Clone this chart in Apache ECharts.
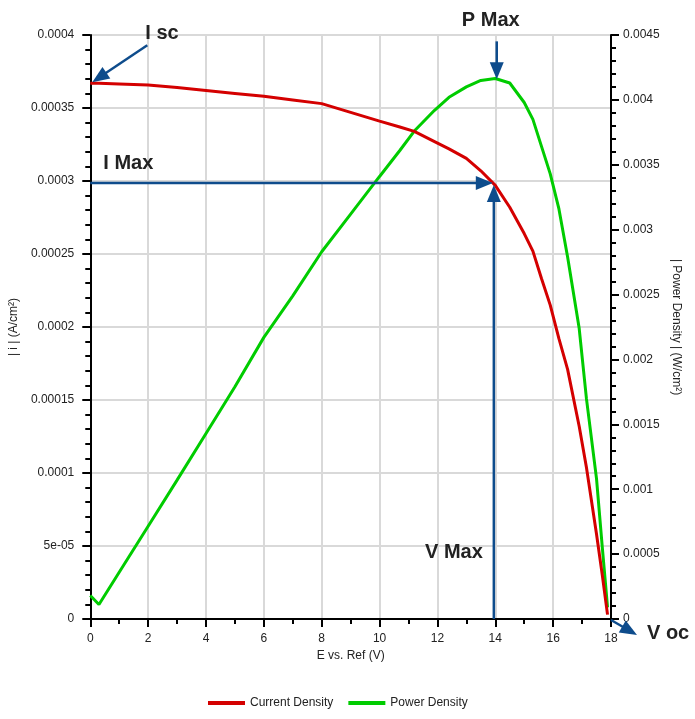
<!DOCTYPE html>
<html>
<head>
<meta charset="utf-8">
<script src="https://cdn.jsdelivr.net/npm/echarts@6/dist/echarts.min.js"></script>
<style>
  html, body { margin: 0; padding: 0; background: #fff; }
  #main { width: 695px; height: 719px; }
</style>
</head>
<body>
<div id="main"></div>
<script>
// values
var voltage = [0, 0.3, 1, 2, 3, 4, 5, 6, 7, 8, 9, 10, 10.7, 11.2, 11.9, 12.4, 13, 13.5, 14, 14.5,
  15, 15.3, 15.6, 15.9, 16.2, 16.5, 16.9, 17.15, 17.5, 17.7, 17.82, 17.88];
var currentDensity = [0.000367, 0.000367, 0.0003665, 0.0003657, 0.000364, 0.000362, 0.00036, 0.000358,
  0.0003555, 0.000353, 0.000347, 0.000341, 0.000337, 0.000334, 0.000327, 0.000322, 0.0003155, 0.000307,
  0.000297, 0.000282, 0.000264, 0.000252, 0.000233, 0.000215, 0.000192, 0.000171, 0.000132, 0.000104,
  0.000058, 0.00003, 0.000012, 0.000003];
var powerDensity = [0.000181, 0.000112, 0.00036, 0.000715, 0.00107, 0.00143, 0.00179, 0.00217, 0.00249,
  0.00283, 0.00312, 0.00341, 0.00361, 0.00376, 0.00392, 0.00402, 0.0041, 0.00415, 0.004165, 0.00413,
  0.00398, 0.00385, 0.00364, 0.00343, 0.00316, 0.00279, 0.00224, 0.0017, 0.00108, 0.00055, 0.000245, 0.00009];

var leftTickLabels = ['0', '5e-05', '0.0001', '0.00015', '0.0002', '0.00025', '0.0003', '0.00035', '0.0004'];
var rightTickLabels = ['0', '0.0005', '0.001', '0.0015', '0.002', '0.0025', '0.003', '0.0035', '0.004', '0.0045'];

// annotation points
var vMax = 13.95, iMax = 0.0002986, pMax = 0.004166, iSc = 0.000367, vOc = 18;

var font = 'Liberation Sans, Arial, sans-serif';
var blue = '#0e4c8c';

var myChart = echarts.init(document.getElementById('main'));

function pairs(xs, ys) {
  return xs.map(function (x, i) { return [x, ys[i]]; });
}

var axisCommon = {
  axisLine: { show: true, onZero: false, lineStyle: { color: '#000', width: 2 } },
  axisTick: { show: true, length: 8, lineStyle: { color: '#000', width: 2 } },
  nameTextStyle: { color: '#222', fontSize: 12, fontFamily: font }
};

option = {
  animation: false,
  grid: { left: 88, right: 84, top: 35, bottom: 100, containLabel: false },
  legend: {
    bottom: 5,
    left: 203,
    icon: 'rect',
    itemWidth: 37,
    itemHeight: 4,
    itemGap: 15,
    textStyle: { color: '#222', fontSize: 12, fontFamily: font },
    data: ['Current Density', 'Power Density']
  },
  xAxis: Object.assign({}, axisCommon, {
    type: 'value',
    min: 0, max: 18, interval: 2,
    name: 'E vs. Ref (V)',
    nameLocation: 'middle',
    nameGap: 30,
    minorTick: { show: true, splitNumber: 2, length: 5, lineStyle: { color: '#000', width: 2 } },
    axisLabel: { color: '#222', fontSize: 12, fontFamily: font, margin: 14 },
    splitLine: { show: true, lineStyle: { color: '#d9d9d9', width: 2 } }
  }),
  yAxis: [
    Object.assign({}, axisCommon, {
      type: 'value',
      position: 'left',
      min: 0, max: 0.0004, interval: 0.00005,
      name: '| i | (A/cm²)',
      nameLocation: 'middle',
      nameGap: 69,
      minorTick: { show: true, splitNumber: 5, length: 5, lineStyle: { color: '#000', width: 2 } },
      axisLabel: {
        color: '#222', fontSize: 12, fontFamily: font, margin: 16,
        formatter: function (v) { return leftTickLabels[Math.round(v / 0.00005)]; }
      },
      splitLine: { show: true, lineStyle: { color: '#d9d9d9', width: 2 } }
    }),
    Object.assign({}, axisCommon, {
      type: 'value',
      position: 'right',
      min: 0, max: 0.0045, interval: 0.0005,
      name: '| Power Density | (W/cm²)',
      nameLocation: 'middle',
      nameRotate: -90,
      nameGap: 58,
      minorTick: { show: true, splitNumber: 5, length: 5, lineStyle: { color: '#000', width: 2 } },
      axisLabel: {
        color: '#222', fontSize: 12, fontFamily: font, margin: 12,
        formatter: function (v) { return rightTickLabels[Math.round(v / 0.0005)]; }
      },
      splitLine: { show: false }
    })
  ],
  series: [
    {
      name: 'Current Density',
      type: 'line',
      yAxisIndex: 0,
      data: pairs(voltage, currentDensity),
      showSymbol: false,
      lineStyle: { color: '#d40000', width: 3 },
      itemStyle: { color: '#d40000' },
      z: 3
    },
    {
      name: 'Power Density',
      type: 'line',
      yAxisIndex: 1,
      data: pairs(voltage, powerDensity),
      showSymbol: false,
      lineStyle: { color: '#00cc00', width: 3 },
      itemStyle: { color: '#00cc00' },
      z: 2
    }
  ]
};

myChart.setOption(option);

// arrows and labels, placed from data coordinates
function toPx(x, y) { return myChart.convertToPixel({ xAxisIndex: 0, yAxisIndex: 0 }, [x, y]); }
function toPxR(x, y) { return myChart.convertToPixel({ xAxisIndex: 0, yAxisIndex: 1 }, [x, y]); }

function arrow(from, to) {
  var dx = to[0] - from[0], dy = to[1] - from[1];
  var len = Math.sqrt(dx * dx + dy * dy);
  var ux = dx / len, uy = dy / len;
  var head = 17, half = 7;
  var bx = to[0] - ux * head, by = to[1] - uy * head;
  return [
    { type: 'line', z: 10, shape: { x1: from[0], y1: from[1], x2: bx + ux * 2, y2: by + uy * 2 },
      style: { stroke: blue, lineWidth: 2.5 } },
    { type: 'polygon', z: 10,
      shape: { points: [to, [bx - uy * half, by + ux * half], [bx + uy * half, by - ux * half]] },
      style: { fill: blue } }
  ];
}

function label(text, x, y, align) {
  return { type: 'text', z: 11, x: x, y: y,
    style: { text: text, fill: '#222', font: 'bold 20px ' + font, align: align || 'left', verticalAlign: 'middle' } };
}

var pIsc = toPx(0, iSc);
var pImax = toPx(vMax, iMax);
var pImax0 = toPx(0, iMax);
var pVmax0 = toPx(vMax, 0);
var pPmax = toPxR(vMax + 0.1, pMax);
var pVoc = toPx(vOc, 0);

var g = [];
g = g.concat(arrow([pIsc[0] + 57, pIsc[1] - 38], [pIsc[0] + 2, pIsc[1] - 1]));
g.push(label('I sc', pIsc[0] + 55, pIsc[1] - 50));
g = g.concat(arrow([pPmax[0], pPmax[1] - 37], [pPmax[0], pPmax[1] + 1]));
g.push(label('P Max', pPmax[0] - 6, pPmax[1] - 58, 'center'));
g = g.concat(arrow([pImax0[0], pImax[1]], [pImax[0] - 1, pImax[1]]));
g.push(label('I Max', pImax0[0] + 13, pImax[1] - 20));
g = g.concat(arrow([pVmax0[0], pVmax0[1]], [pVmax0[0], pImax[1] + 2]));
g.push(label('V Max', pVmax0[0] - 11, pVmax0[1] - 67, 'right'));
g = g.concat(arrow([pVoc[0], pVoc[1] + 1], [pVoc[0] + 26, pVoc[1] + 16]));
g.push(label('V oc', pVoc[0] + 36, pVoc[1] + 14));

myChart.setOption({ graphic: g });
</script>
</body>
</html>
